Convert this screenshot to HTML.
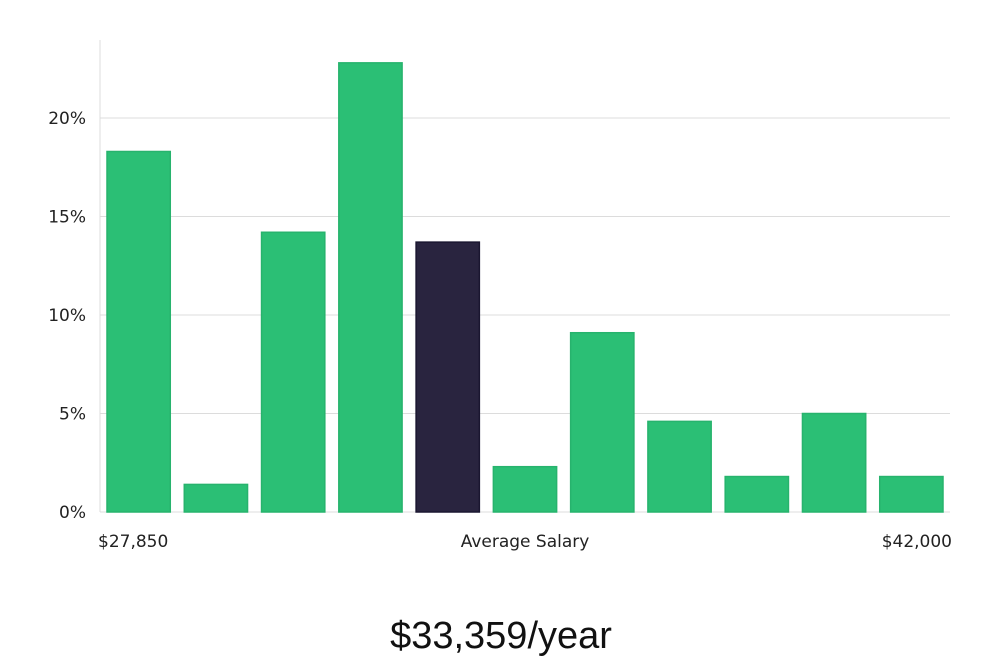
<!DOCTYPE html>
<html><head><meta charset="utf-8"><style>
html,body{margin:0;padding:0;background:#fff;}
svg{display:block;font-family:"DejaVu Sans","Liberation Sans",sans-serif;}
</style></head><body>
<svg id="chart" width="1000" height="660" viewBox="0 0 1000 660" xmlns="http://www.w3.org/2000/svg"></svg>
<script>
const categories = ["b1","b2","b3","b4","b5","b6","b7","b8","b9","b10","b11"];
const values = [18.3, 1.4, 14.2, 22.8, 13.7, 2.3, 9.1, 4.6, 1.8, 5.0, 1.8];
const highlightIndex = 4;
const yTicks = [0, 5, 10, 15, 20];
const yTickLabels = ["0%","5%","10%","15%","20%"];
const xLabels = ["$27,850","Average Salary","$42,000"];
const titleText = "$33,359/year";

const NS = "http://www.w3.org/2000/svg";
const svgEl = document.getElementById("chart");
const plotLeft = 100, plotRight = 950, plotTop = 40, plotBottom = 512;
const yScale = v => plotBottom - v * (512 - 118) / 20;
const slot = (plotRight - plotLeft) / categories.length;
const xScale = i => plotLeft + i * slot;
function mk(tag, attrs, parent) {
  const el = document.createElementNS(NS, tag);
  for (const k in attrs) el.setAttribute(k, attrs[k]);
  (parent || svgEl).appendChild(el);
  return el;
}
const grid = mk("g", {});


yTicks.forEach((t, i) => {
  const y = yScale(t);
  if (t > 0) {
    const l = mk("line", {x1: plotLeft, x2: plotRight, y1: y, y2: y, stroke: "#dcdcdc", "stroke-width": 1}, grid);
    
    
  }
  const tx = mk("text", {x: 86, y: y + 6, "text-anchor": "end", "font-size": 17, fill: "#222"});
  
  
  tx.textContent = yTickLabels[i];
});
const yAxis = mk("line", {x1: plotLeft, x2: plotLeft, y1: plotTop, y2: plotBottom, stroke: "#dcdcdc", "stroke-width": 1});


const xAxis = mk("line", {x1: plotLeft, x2: plotRight, y1: plotBottom, y2: plotBottom, stroke: "#dcdcdc", "stroke-width": 1});


values.forEach((v, i) => {
  const x = xScale(i) + 7, w = slot - 14, y = yScale(v);
  const hi = i === highlightIndex;
  const r = mk("rect", {x: x, y: y, width: w, height: plotBottom - y,
    fill: hi ? "#29243f" : "#2bbf75", stroke: hi ? "#1a1630" : "#27b36d", "stroke-width": 1.5});
  
  
});
const xPos = [[98, "start"], [525, "middle"], [952, "end"]];
xLabels.forEach((t, i) => {
  const tx = mk("text", {x: xPos[i][0], y: 547, "text-anchor": xPos[i][1], "font-size": 17, fill: "#222"});
  
  
  tx.textContent = t;
});
const title = mk("text", {x: 501, y: 648, "text-anchor": "middle", "font-size": 38, fill: "#111",
  "font-family": "'Liberation Sans', sans-serif", "font-weight": 300});


title.textContent = titleText;
</script>
</body></html>
